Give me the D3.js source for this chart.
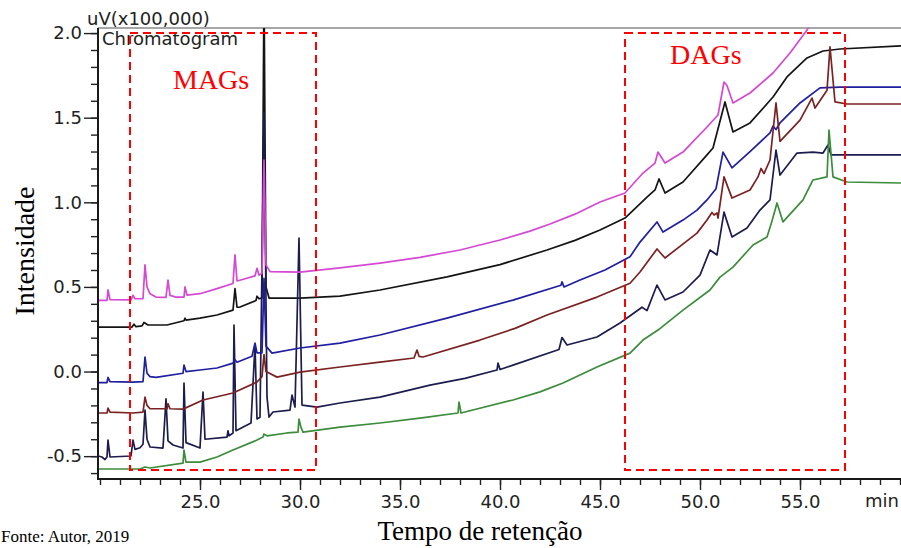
<!DOCTYPE html>
<html><head><meta charset="utf-8">
<script src="https://cdn.jsdelivr.net/npm/d3@7"></script>
<style>body{margin:0;background:#fff;} svg{display:block}</style>
</head><body><svg id="c" width="901" height="548"></svg>
<script>
// ---- data (time in min, intensity in uV x100,000) ----
const xMajorTicks = [25, 30, 35, 40, 45, 50, 55];
const xMinorTicks = d3.range(20, 61, 1);
const yMajorTicks = [-0.5, 0.0, 0.5, 1.0, 1.5, 2.0];
const yMinorTicks = d3.range(-6, 21, 1).map(d => d / 10);

const seriesMagenta = [[19.9,0.42],[20.35,0.42],[20.4,0.482],[20.5,0.425],[21.55,0.423],[21.65,0.45],[21.75,0.43],[22.15,0.43],[22.25,0.63],[22.35,0.5],[22.5,0.46],[22.8,0.44],[23.3,0.438],[23.4,0.54],[23.5,0.45],[23.8,0.44],[24.2,0.44],[24.25,0.5],[24.35,0.452],[25.0,0.46],[25.85,0.49],[26.65,0.52],[26.75,0.69],[26.85,0.535],[27.3,0.55],[27.75,0.565],[27.85,0.61],[27.95,0.57],[28.1,0.58],[28.2,1.25],[28.3,0.63],[28.5,0.59],[30.0,0.588],[32.0,0.612],[34.0,0.641],[36.0,0.675],[38.0,0.718],[40.0,0.777],[41.5,0.83],[42.5,0.872],[43.75,0.93],[45.0,1.002],[46.25,1.055],[47.15,1.173],[47.75,1.232],[47.9,1.297],[48.25,1.232],[49.15,1.297],[50.35,1.445],[50.9,1.516],[51.2,1.711],[51.35,1.69],[51.65,1.587],[52.5,1.646],[53.65,1.764],[54.5,1.882],[55.35,2.018],[56.0,2.15],[60.05,2.2]];
const seriesBlack = [[19.9,0.263],[21.6,0.263],[21.7,0.28],[21.8,0.265],[22.1,0.27],[22.2,0.29],[22.4,0.275],[23.35,0.275],[24.2,0.3],[24.25,0.315],[24.3,0.304],[25.0,0.316],[25.85,0.334],[26.65,0.363],[26.75,0.49],[26.85,0.38],[27.0,0.381],[27.8,0.42],[27.85,0.445],[27.95,0.43],[28.1,0.435],[28.2,2.3],[28.3,0.5],[28.45,0.434],[30.0,0.434],[32.0,0.446],[34.0,0.482],[37.35,0.559],[40.0,0.632],[42.35,0.718],[43.75,0.775],[45.0,0.836],[46.25,0.907],[47.35,1.031],[47.75,1.073],[47.95,1.138],[48.25,1.055],[49.15,1.12],[50.35,1.28],[50.65,1.321],[51.25,1.593],[51.65,1.416],[52.5,1.469],[53.65,1.622],[54.35,1.741],[55.35,1.853],[56.15,1.894],[57.0,1.906],[60.05,1.924]];
const seriesBlue = [[19.9,-0.065],[20.35,-0.065],[20.4,-0.035],[20.5,-0.06],[21.65,-0.062],[22.15,-0.06],[22.25,0.086],[22.35,-0.01],[22.5,-0.03],[22.8,-0.035],[24.15,-0.01],[24.2,0.038],[24.3,0.0],[25.0,0.009],[25.85,0.021],[26.65,0.05],[26.75,0.07],[26.85,0.055],[27.6,0.09],[27.75,0.168],[27.85,0.11],[28.1,0.11],[28.2,0.55],[28.3,0.15],[28.6,0.109],[30.0,0.139],[32.0,0.168],[34.0,0.216],[37.35,0.316],[40.65,0.422],[43.05,0.51],[43.1,0.53],[43.2,0.5],[44.0,0.541],[45.25,0.6],[46.5,0.678],[47.0,0.765],[47.85,0.884],[48.15,0.824],[49.15,0.895],[49.85,0.954],[50.35,1.014],[50.8,1.08],[51.15,1.297],[51.6,1.203],[52.5,1.3],[53.5,1.41],[53.65,1.45],[53.8,1.43],[54.0,1.469],[55.0,1.587],[56.0,1.676],[57.0,1.681],[60.05,1.681]];
const seriesBrown = [[19.9,-0.245],[20.35,-0.245],[20.4,-0.216],[20.5,-0.24],[21.65,-0.245],[22.15,-0.24],[22.25,-0.151],[22.35,-0.2],[22.5,-0.22],[23.35,-0.22],[23.4,-0.19],[23.5,-0.22],[24.15,-0.222],[25.15,-0.168],[26.65,-0.127],[27.85,-0.062],[28.1,-0.03],[28.2,0.1],[28.3,0.0],[28.85,-0.033],[30.0,-0.003],[32.0,0.027],[34.0,0.056],[35.7,0.08],[35.85,0.127],[35.95,0.09],[36.15,0.086],[39.0,0.186],[40.75,0.255],[42.35,0.334],[44.85,0.44],[46.5,0.522],[47.0,0.588],[47.85,0.724],[48.25,0.671],[49.85,0.818],[50.35,0.895],[50.6,0.94],[50.7,0.925],[50.85,0.937],[50.9,0.907],[51.2,1.15],[51.6,1.025],[52.5,1.073],[52.9,1.15],[53.05,1.2],[53.2,1.17],[53.5,1.25],[53.8,1.587],[54.0,1.36],[55.0,1.486],[55.6,1.616],[55.75,1.557],[56.35,1.662],[56.5,1.918],[56.75,1.593],[57.35,1.581],[60.05,1.581]];
const seriesNavy = [[19.9,-0.499],[20.1,-0.505],[20.25,-0.52],[20.35,-0.505],[20.4,-0.405],[20.5,-0.505],[21.55,-0.499],[21.65,-0.405],[21.75,-0.46],[22.0,-0.45],[22.15,-0.43],[22.25,-0.228],[22.35,-0.4],[22.5,-0.446],[23.15,-0.452],[23.3,-0.162],[23.4,-0.41],[23.65,-0.434],[24.15,-0.452],[24.2,-0.068],[24.3,-0.42],[25.0,-0.452],[25.15,-0.121],[25.25,-0.4],[26.35,-0.387],[26.4,-0.35],[26.45,-0.38],[26.65,-0.363],[26.7,0.275],[26.8,-0.35],[27.55,-0.304],[27.75,0.16],[27.85,-0.28],[28.0,-0.27],[28.2,1.53],[28.35,-0.15],[28.45,-0.269],[28.65,-0.239],[29.5,-0.228],[29.6,-0.139],[29.75,-0.21],[29.95,0.789],[30.1,-0.198],[30.85,-0.21],[32.0,-0.186],[34.0,-0.151],[36.5,-0.08],[38.25,-0.04],[39.85,0.009],[39.9,0.05],[40.0,0.012],[40.65,0.038],[42.95,0.13],[43.1,0.201],[43.35,0.157],[44.85,0.204],[46.0,0.287],[47.1,0.38],[47.35,0.36],[47.85,0.511],[48.25,0.423],[49.15,0.47],[50.0,0.57],[50.5,0.718],[50.85,0.689],[51.2,0.942],[51.6,0.795],[52.35,0.848],[53.0,0.954],[53.5,1.014],[53.8,1.309],[54.0,1.161],[54.85,1.291],[55.65,1.297],[56.15,1.291],[56.4,1.339],[56.55,1.28],[57.0,1.28],[60.05,1.28]];
const seriesGreen = [[19.9,-0.576],[22.0,-0.576],[22.25,-0.564],[22.5,-0.57],[24.15,-0.541],[24.2,-0.464],[24.3,-0.535],[25.0,-0.535],[25.85,-0.505],[26.65,-0.464],[27.85,-0.405],[28.15,-0.387],[28.2,-0.37],[28.35,-0.38],[29.35,-0.363],[29.9,-0.358],[29.95,-0.281],[30.05,-0.33],[30.15,-0.358],[32.0,-0.328],[34.0,-0.304],[36.0,-0.275],[37.9,-0.245],[37.95,-0.18],[38.05,-0.245],[40.65,-0.168],[42.0,-0.12],[43.15,-0.068],[44.85,0.027],[46.5,0.109],[47.15,0.186],[47.9,0.245],[49.15,0.363],[50.5,0.482],[51.0,0.558],[51.65,0.617],[52.65,0.748],[53.35,0.795],[53.6,0.889],[53.85,0.996],[54.15,0.884],[55.15,1.014],[55.65,1.132],[56.35,1.15],[56.45,1.427],[56.65,1.15],[57.35,1.12],[60.05,1.114]];

const seriesList = [
  {name: "black",   values: seriesBlack,   color: "#141414"},
  {name: "navy",    values: seriesNavy,    color: "#1c1c4e"},
  {name: "blue",    values: seriesBlue,    color: "#1f1fa0"},
  {name: "brown",   values: seriesBrown,   color: "#7a2222"},
  {name: "green",   values: seriesGreen,   color: "#3c8c3c"},
  {name: "magenta", values: seriesMagenta, color: "#d448d4"}
];

const regionBoxes = [
  {label: "MAGs", t0: 21.5, t1: 30.8, v0: -0.582, v1: 2.0, lt: 23.65, lv: 1.67},
  {label: "DAGs", t0: 46.25, t1: 57.25, v0: -0.582, v1: 2.0, lt: 48.5, lv: 1.817}
];

// ---- layout ----
const svg = d3.select("#c");
const L = 98, R = 901, T = 28, B = 479;
const x = d3.scaleLinear().domain([19.9, 60.05]).range([L, R]);
const y = d3.scaleLinear().domain([-0.635, 2.030]).range([B, T]);
const sans = "'DejaVu Sans', Verdana, sans-serif";
const serif = "'Liberation Serif', 'Times New Roman', serif";

svg.append("rect").attr("width", 901).attr("height", 548).attr("fill", "#fff");

svg.append("defs").append("clipPath").attr("id", "plotclip")
  .append("rect").attr("x", L).attr("y", T).attr("width", R - L).attr("height", B - T);

// top border
svg.append("line").attr("x1", L).attr("x2", R).attr("y1", T).attr("y2", T)
  .attr("stroke", "#8a8a8a").attr("stroke-width", 1.5);

// series
const line = d3.line().x(d => x(d[0])).y(d => y(d[1]));
const g = svg.append("g").attr("clip-path", "url(#plotclip)");
g.selectAll("path").data(seriesList).join("path")
  .attr("d", d => line(d.values))
  .attr("fill", "none")
  .attr("stroke", d => d.color)
  .attr("stroke-width", 1.7)
  .attr("stroke-linejoin", "round");

// axes
function styleAxis(sel) {
  sel.select(".domain").remove();
  sel.selectAll("line").attr("stroke", "#222").attr("stroke-width", 1.4);
  sel.selectAll("text").attr("fill", "#222").style("font-family", sans).style("font-size", "18px");
}
svg.append("g").attr("transform", `translate(${L},0)`)
  .call(d3.axisLeft(y).tickValues(yMinorTicks).tickSize(7).tickFormat(""))
  .call(styleAxis);
svg.append("g").attr("transform", `translate(${L},0)`)
  .call(d3.axisLeft(y).tickValues(yMajorTicks).tickSize(14).tickPadding(2).tickFormat(d => d.toFixed(1)))
  .call(styleAxis);
svg.append("g").attr("transform", `translate(0,${B})`)
  .call(d3.axisBottom(x).tickValues(xMinorTicks).tickSize(6).tickFormat(""))
  .call(styleAxis);
svg.append("g").attr("transform", `translate(0,${B})`)
  .call(d3.axisBottom(x).tickValues(xMajorTicks).tickSize(11).tickPadding(5).tickFormat(d => d.toFixed(1)))
  .call(styleAxis);

// axis lines
svg.append("line").attr("x1", L).attr("x2", L).attr("y1", T).attr("y2", B + 1)
  .attr("stroke", "#1a1a1a").attr("stroke-width", 2);
svg.append("line").attr("x1", L - 1).attr("x2", R).attr("y1", B).attr("y2", B)
  .attr("stroke", "#1a1a1a").attr("stroke-width", 2);

// instrument texts
svg.append("text").attr("x", 87).attr("y", 25).text("uV(x100,000)")
  .attr("fill", "#222").style("font-family", sans).style("font-size", "18px");
svg.append("text").attr("x", 102).attr("y", 45).text("Chromatogram")
  .attr("fill", "#222").style("font-family", sans).style("font-size", "18px");
svg.append("text").attr("x", 865).attr("y", 507).text("min")
  .attr("fill", "#222").style("font-family", sans).style("font-size", "18px");

// region boxes
const boxes = svg.append("g");
boxes.selectAll("rect").data(regionBoxes).join("rect")
  .attr("x", d => x(d.t0)).attr("y", d => y(d.v1))
  .attr("width", d => x(d.t1) - x(d.t0)).attr("height", d => y(d.v0) - y(d.v1))
  .attr("fill", "none").attr("stroke", "#ff0000").attr("stroke-width", 2)
  .attr("stroke-dasharray", "8,5");
boxes.selectAll("text").data(regionBoxes).join("text")
  .attr("x", d => x(d.lt)).attr("y", d => y(d.lv))
  .text(d => d.label)
  .attr("fill", "#ff0000").style("font-family", serif).style("font-size", "28px");

// titles
svg.append("text").attr("x", 480).attr("y", 540).attr("text-anchor", "middle")
  .text("Tempo de retenção").attr("fill", "#000")
  .style("font-family", serif).style("font-size", "27px");
svg.append("text").attr("transform", "translate(34,251) rotate(-90)")
  .attr("text-anchor", "middle").text("Intensidade").attr("fill", "#000")
  .style("font-family", serif).style("font-size", "28px");
svg.append("text").attr("x", 1).attr("y", 542).text("Fonte: Autor, 2019")
  .attr("fill", "#000").style("font-family", serif).style("font-size", "17px");
</script></body></html>
